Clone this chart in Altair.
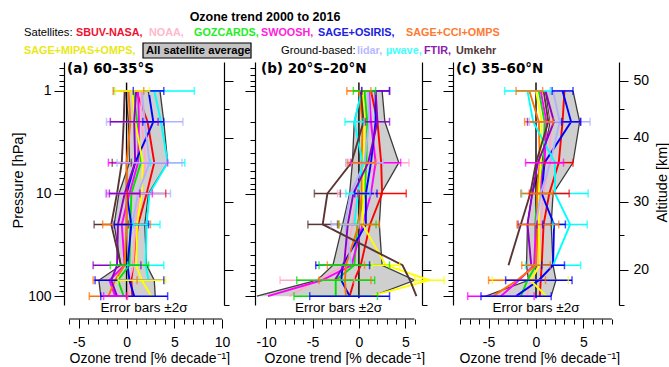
import altair as alt
import pandas as pd

# Pressure levels (hPa) at which every trend profile is given
LEVELS = [1, 2, 5, 10, 20, 50, 70, 100]

SERIES = ["SBUV-NASA", "NOAA", "GOZCARDS", "SWOOSH", "SAGE+OSIRIS",
          "SAGE+CCI+OMPS", "SAGE+MIPAS+OMPS", "lidar", "µwave", "FTIR", "Umkehr"]
COLORS = ["#ff0000", "#ffa8c8", "#00e000", "#ff00ff", "#0000ff",
          "#ff7000", "#ffff00", "#b0b0ff", "#00ffff", "#8c00c8", "#5a3434"]

N = None

# Trends [% per decade] at LEVELS, 60-35°S
SOUTH = {
    "SBUV-NASA":       [1.0, 2.2, 2.9, 2.1, 1.2, 0.7, 0.5, 0.6],
    "NOAA":            [1.5, 1.6, 2.0, 1.4, 0.9, 0.7, 0.3, 0.2],
    "GOZCARDS":        [0.7, 1.1, 1.5, 0.5, 0.4, 0.3, -0.9, -0.3],
    "SWOOSH":          [1.2, 1.3, 1.2, 0.3, -0.5, -0.2, -1.8, -1.2],
    "SAGE+OSIRIS":     [2.3, 2.8, 0.9, 0.0, 0.5, 0.1, 0.3, 0.8],
    "SAGE+CCI+OMPS":   [0.2, 0.4, 0.0, 0.0, 0.0, -0.2, -1.2, -1.9],
    "SAGE+MIPAS+OMPS": [0.6, 0.9, 1.7, 1.6, 1.1, 1.0, 1.6, 2.6],
    "lidar":           [1.6, 1.9, 2.4, 1.2, 0.6, N, N, N],
    "µwave":           [2.9, 3.6, 4.3, 2.4, 2.1, 2.0, 2.3, N],
    "FTIR":            [1.0, 0.8, 0.9, -0.2, -0.9, -1.0, -1.6, -1.0],
    "Umkehr":          [-0.2, -0.3, -0.5, -1.0, -1.6, -0.6, N, N],
}
SOUTH_AVG_LO = [-0.1, 0.2, 0.3, -0.8, -1.3, -0.6, -2.9, -2.7]
SOUTH_AVG_HI = [3.5, 3.9, 4.3, 2.3, 1.9, 2.1, 2.9, 3.0]
# (dataset, level, 2-sigma half width)
SOUTH_ERR = [
    ("µwave", 1, 4.2), ("SAGE+OSIRIS", 1, 1.6), ("SAGE+CCI+OMPS", 1, 1.6), ("SAGE+MIPAS+OMPS", 1, 1.8),
    ("lidar", 2, 4.0), ("FTIR", 2, 2.5), ("SAGE+OSIRIS", 2, 1.1),
    ("µwave", 5, 1.8), ("Umkehr", 5, 1.0), ("SWOOSH", 5, 3.1), ("lidar", 5, 3.4),
    ("SBUV-NASA", 10, 2.0), ("SWOOSH", 10, 2.4), ("lidar", 10, 3.4), ("FTIR", 10, 1.6),
    ("Umkehr", 20, 1.8), ("SAGE+CCI+OMPS", 20, 2.5), ("SAGE+OSIRIS", 20, 1.8), ("µwave", 20, 1.4),
    ("FTIR", 50, 2.5), ("µwave", 50, 1.9), ("GOZCARDS", 50, 2.0),
    ("SAGE+CCI+OMPS", 70, 2.3), ("SAGE+OSIRIS", 70, 3.6), ("SAGE+MIPAS+OMPS", 70, 2.5),
    ("SAGE+CCI+OMPS", 100, 2.0), ("SAGE+OSIRIS", 100, 3.5), ("SWOOSH", 100, 1.2),
]

# Trends [% per decade] at LEVELS, 20°S-20°N
TROPICS = {
    "SBUV-NASA":       [1.3, 2.0, 2.4, 2.5, 1.2, 0.2, -0.5, -1.0],
    "NOAA":            [1.0, 1.2, 2.0, -0.3, -0.7, -1.5, -4.5, -7.5],
    "GOZCARDS":        [0.6, 0.9, 0.8, 0.6, -0.15, -0.5, -2.5, -2.5],
    "SWOOSH":          [1.1, 1.3, 1.8, 1.3, 0.4, -0.8, -4.0, -9.8],
    "SAGE+OSIRIS":     [1.8, 1.8, 1.3, 0.75, 0.75, -1.75, -1.9, -1.0],
    "SAGE+CCI+OMPS":   [0.0, 0.4, 0.3, 0.3, 0.0, -1.4, -1.5, -1.4],
    "SAGE+MIPAS+OMPS": [0.4, 0.6, 0.5, 0.5, 0.4, 2.9, 7.6, 1.3],
    "lidar":           [1.0, 1.1, 0.6, -0.9, -1.5, -0.8, N, N],
    "µwave":           [0.3, -0.5, 0.4, -0.1, -0.5, N, N, N],
    "FTIR":            [1.8, 2.0, 1.0, -0.6, -1.2, -1.6, -2.6, N],
    "Umkehr":          [0.2, 0.5, -0.8, -3.4, -3.9, 4.7, 5.5, 6.2],
}
TROPICS_AVG_LO = [0.3, -0.5, -0.7, -1.0, -1.75, -2.8, -4.5, -11.0]
TROPICS_AVG_HI = [2.5, 2.8, 4.3, 2.4, 2.2, 2.5, 6.0, 1.5]
TROPICS_ERR = [
    ("SAGE+OSIRIS", 1, 1.5), ("FTIR", 1, 1.5), ("SAGE+CCI+OMPS", 1, 1.3), ("GOZCARDS", 1, 1.2),
    ("FTIR", 2, 1.3), ("µwave", 2, 1.0),
    ("NOAA", 5, 3.4), ("SWOOSH", 5, 2.7), ("lidar", 5, 2.0), ("SAGE+CCI+OMPS", 5, 1.5),
    ("SBUV-NASA", 10, 2.6), ("Umkehr", 10, 1.4), ("NOAA", 10, 2.0), ("µwave", 10, 1.3), ("SAGE+OSIRIS", 10, 1.2),
    ("Umkehr", 20, 1.6), ("GOZCARDS", 20, 2.0), ("SAGE+CCI+OMPS", 20, 2.2), ("lidar", 20, 1.5),
    ("SAGE+OSIRIS", 50, 2.9), ("SAGE+CCI+OMPS", 50, 2.0), ("GOZCARDS", 50, 3.8), ("SAGE+MIPAS+OMPS", 50, 1.5),
    ("NOAA", 70, 4.0), ("SAGE+CCI+OMPS", 70, 2.8), ("GOZCARDS", 70, 4.2), ("SAGE+MIPAS+OMPS", 70, 1.6),
    ("GOZCARDS", 100, 4.5), ("SAGE+OSIRIS", 100, 4.3),
]

# Trends [% per decade] at LEVELS, 35-60°N
NORTH = {
    "SBUV-NASA":       [3.0, 2.8, 2.4, 1.4, 0.8, 0.6, 0.5, 0.4],
    "NOAA":            [1.2, 1.6, 1.4, 0.8, 0.5, 0.3, -0.5, -1.0],
    "GOZCARDS":        [0.3, 0.9, 0.8, 0.2, -0.1, 0.0, -0.9, -1.6],
    "SWOOSH":          [0.5, 1.1, 0.9, 0.3, 0.0, -0.2, -1.8, -3.7],
    "SAGE+OSIRIS":     [2.8, 3.7, 0.9, 0.6, 1.9, 1.8, 0.3, -2.1],
    "SAGE+CCI+OMPS":   [-0.7, 0.3, 0.4, 0.1, 0.2, 0.0, -2.0, -4.5],
    "SAGE+MIPAS+OMPS": [0.0, 0.6, 0.5, 0.3, 0.3, 0.4, -0.6, 1.1],
    "lidar":           [1.8, 2.5, 1.5, 0.5, 0.0, N, N, N],
    "µwave":           [-0.9, -0.3, 2.0, 2.0, 3.6, 1.8, N, N],
    "FTIR":            [1.0, 1.9, 0.2, -0.4, -0.9, -0.5, N, N],
    "Umkehr":          [0.8, 1.3, 0.0, -0.6, -1.6, -2.9, N, N],
}
NORTH_AVG_LO = [1.0, 1.5, 0.6, -0.4, -0.9, -1.0, -0.8, -5.3]
NORTH_AVG_HI = [3.9, 4.6, 3.9, 1.8, 1.6, 1.8, 2.1, 1.6]
NORTH_ERR = [
    ("µwave", 1, 2.4), ("SAGE+CCI+OMPS", 1, 1.4), ("SAGE+OSIRIS", 1, 1.1),
    ("FTIR", 2, 2.8), ("lidar", 2, 3.2), ("SAGE+OSIRIS", 2, 1.0), ("SAGE+CCI+OMPS", 2, 1.5),
    ("SBUV-NASA", 5, 1.5), ("SWOOSH", 5, 2.0),
    ("µwave", 10, 3.5), ("SBUV-NASA", 10, 2.1), ("SAGE+CCI+OMPS", 10, 1.7),
    ("µwave", 20, 1.8), ("SAGE+OSIRIS", 20, 1.2), ("FTIR", 20, 1.0), ("SAGE+CCI+OMPS", 20, 2.2),
    ("µwave", 50, 2.9), ("SAGE+OSIRIS", 50, 1.2), ("SAGE+CCI+OMPS", 50, 1.5),
    ("SAGE+MIPAS+OMPS", 70, 4.0), ("SAGE+CCI+OMPS", 70, 3.0), ("SAGE+OSIRIS", 70, 3.5),
    ("SWOOSH", 100, 3.5), ("SAGE+OSIRIS", 100, 3.7),
]

# Pressure axis ticks (hPa)
P_TICKS = [0.6, 0.7, 0.8, 0.9, 1, 2, 3, 4, 5, 6, 7, 8, 9, 10,
           20, 30, 40, 50, 60, 70, 80, 90, 100]
P_LABELLED = [1, 10, 100]
# US standard atmosphere: altitude (km) and matching pressure (hPa)
ALT_KM = [15, 20, 25, 30, 35, 40, 45, 50]
ALT_HPA = [121.1, 55.29, 25.49, 11.97, 5.746, 2.871, 1.491, 0.7978]
ALT_LABELLED = [20, 30, 40, 50]
ZERO_SPAN_HPA = [0.83, 105]

FONT = "Liberation Sans"
LABEL_FONT = "DejaVu Sans"
HEIGHT = 243
Y_SCALE = alt.Scale(type="log", domain=[0.5228, 122], reverse=True, nice=False, zero=False)
COLOR_SCALE = alt.Scale(domain=SERIES, range=COLORS)
ONE = pd.DataFrame({"k": [0]})


def eq_any(values):
    return " || ".join(f"datum.value == {v}" for v in values)


def left_axis(with_labels):
    kw = dict(orient="left", values=P_TICKS, grid=False, domainColor="black",
              tickColor="black", domainWidth=1.2,
              tickSize={"condition": {"test": eq_any(P_LABELLED), "value": 10}, "value": 5})
    if with_labels:
        kw.update(labelExpr=f"({eq_any(P_LABELLED)}) ? '' + datum.value : ''",
                  labelFontSize=14, labelPadding=3, labelFlush=False, labelOverlap=False,
                  labelColor="black", title="Pressure [hPa]", titleFontSize=14.5,
                  titleFontWeight="normal", titleColor="black", titleAngle=270,
                  titleX=-39, titleY=118, titleBaseline="bottom", titleAlign="center")
    else:
        kw.update(labels=False, title="")
    return alt.Axis(**kw)


def right_axis(with_labels):
    major = [p for p, km in zip(ALT_HPA, ALT_KM) if km in ALT_LABELLED]
    kw = dict(orient="right", values=ALT_HPA, grid=False, domainColor="black",
              tickColor="black", domainWidth=1.2,
              tickSize={"condition": {"test": eq_any(major), "value": 9}, "value": 5})
    if with_labels:
        expr = "".join(f"datum.value == {p} ? '{km}' : "
                       for p, km in zip(ALT_HPA, ALT_KM) if km in ALT_LABELLED) + "''"
        kw.update(labelExpr=expr, labelFontSize=14, labelPadding=5, labelFlush=False,
                  labelOverlap=False, labelColor="black", title="Altitude [km]",
                  titleFontSize=14.5, titleFontWeight="normal", titleColor="black",
                  titleAngle=270, titleX=50, titleY=120, titleBaseline="bottom",
                  titleAlign="center")
    else:
        kw.update(labels=False, title="")
    return alt.Axis(**kw)


def x_axis(lo, hi, title_x):
    return alt.Axis(values=list(range(lo, hi + 1)), domain=False, offset=14, grid=False,
                    tickColor="black",
                    tickSize={"condition": {"test": "datum.value % 5 == 0", "value": 9}, "value": 5},
                    labelExpr="datum.value % 5 == 0 ? '' + datum.value : ''",
                    labelFontSize=14, labelPadding=7, labelFlush=False, labelOverlap=False,
                    labelColor="black", title="Ozone trend [% decade⁻¹]", titleFontSize=14,
                    titleFontWeight="normal", titleColor="black", titleAlign="left",
                    titleAnchor="start", titleX=title_x, titleY=39, titleBaseline="middle")


def panel(trends, avg_lo, avg_hi, errs, width, x_domain, x_span, title_x, label,
          label_x, first=False, last=False, extra=None):
    rows = []
    for s in SERIES:
        for i, (p, v) in enumerate(zip(LEVELS, trends[s])):
            if v is not None:
                rows.append({"series": s, "p": p, "idx": i, "trend": v})
    prof = pd.DataFrame(rows)
    band = pd.DataFrame({"p": LEVELS, "idx": range(len(LEVELS)), "lo": avg_lo, "hi": avg_hi})
    err = pd.DataFrame([
        {"series": s, "p": p,
         "lo": trends[s][LEVELS.index(p)] - h, "hi": trends[s][LEVELS.index(p)] + h}
        for s, p, h in errs
    ])
    zero = pd.DataFrame({"x0": [0], "p0": [ZERO_SPAN_HPA[0]], "p1": [ZERO_SPAN_HPA[1]]})
    span = pd.DataFrame({"a": [x_span[0]], "b": [x_span[1]]})

    xs = alt.Scale(domain=x_domain, nice=False, zero=False)
    # every layer shares one identical bottom axis definition so they merge cleanly
    xa = x_axis(x_span[0], x_span[1], title_x)
    col = alt.Color("series:N", scale=COLOR_SCALE, legend=None)

    area = alt.Chart(band).mark_area(orient="horizontal", color="#cfcfcf").encode(
        x=alt.X("lo:Q", scale=xs, axis=xa), x2="hi:Q",
        y=alt.Y("p:Q", scale=Y_SCALE, axis=left_axis(first)))
    edges = alt.Chart(band).transform_fold(["lo", "hi"], as_=["edge", "val"]).mark_line(
        color="#3c3c3c", strokeWidth=1.3).encode(
        x=alt.X("val:Q", scale=xs, axis=xa), y=alt.Y("p:Q", scale=Y_SCALE, axis=None),
        detail="edge:N", order="idx:Q")
    zline = alt.Chart(zero).mark_rule(color="black", strokeWidth=1.4).encode(
        x=alt.X("x0:Q", scale=xs, axis=xa), y=alt.Y("p0:Q", scale=Y_SCALE, axis=None), y2="p1:Q")
    lines = alt.Chart(prof).mark_line(strokeWidth=1.9).encode(
        x=alt.X("trend:Q", scale=xs, axis=xa),
        y=alt.Y("p:Q", scale=Y_SCALE, axis=right_axis(last)),
        color=col, detail="series:N", order="idx:Q")
    bars = alt.Chart(err).mark_rule(strokeWidth=1.5).encode(
        x=alt.X("lo:Q", scale=xs, axis=xa), x2="hi:Q",
        y=alt.Y("p:Q", scale=Y_SCALE, axis=None), color=col)
    caps = alt.Chart(err).transform_fold(["lo", "hi"], as_=["end", "val"]).mark_tick(
        orient="vertical", size=8, thickness=1.5).encode(
        x=alt.X("val:Q", scale=xs, axis=xa), y=alt.Y("p:Q", scale=Y_SCALE, axis=None), color=col)
    axis_line = alt.Chart(span).mark_rule(color="black", strokeWidth=1.2).encode(
        x=alt.X("a:Q", scale=xs, axis=xa), x2="b:Q", y=alt.value(HEIGHT + 14))
    tag = alt.Chart(ONE).mark_text(text=label, font=LABEL_FONT, fontWeight="bold",
                                   fontSize=13.5, align="left", baseline="middle",
                                   color="black").encode(x=alt.value(label_x), y=alt.value(7))
    note = alt.Chart(ONE).mark_text(text="Error bars ±2σ", fontSize=13.5, align="center",
                                    baseline="middle", color="black").encode(
        x=alt.value(width / 2), y=alt.value(HEIGHT + 3))

    layers = [area, edges, zline, lines, bars, caps, axis_line, tag, note]
    if extra:
        layers += extra
    return alt.layer(*layers).resolve_axis(y="independent").properties(
        width=width, height=HEIGHT)


# Header: title and colour key, placed relative to the first panel
def txt(s, x, y, color="black", bold=True, size=10.8, align="left"):
    return alt.Chart(ONE).mark_text(text=s, fontSize=size, align=align, baseline="middle",
                                    color=color, fontWeight="bold" if bold else "normal"
                                    ).encode(x=alt.value(x), y=alt.value(y))


KEY_ROW1 = [("SBUV-NASA,", 12), ("NOAA,", 85), ("GOZCARDS,", 130), ("SWOOSH,", 197),
            ("SAGE+OSIRIS,", 254), ("SAGE+CCI+OMPS", 342)]
KEY_ROW1_COLORS = ["#f01030", "#ffb8cc", "#22ee22", "#ff22dd", "#2020e0", "#ff7a30"]
KEY_ROW2 = [("lidar,", 293), ("µwave,", 322), ("FTIR,", 360), ("Umkehr", 392)]
KEY_ROW2_COLORS = ["#b8b8ff", "#40ffff", "#8a20b0", "#503838"]

header = [txt("Ozone trend 2000 to 2016", 201, -45, size=12.5, align="center"),
          txt("Satellites:", -40, -29, bold=False, size=11.2),
          txt("SAGE+MIPAS+OMPS,", -40, -11, color="#e8e818"),
          alt.Chart(ONE).mark_rect(fill="#c4c4c4", stroke="black", strokeWidth=1.2).encode(
              x=alt.value(79), x2=alt.value(187), y=alt.value(-19), y2=alt.value(-4)),
          txt("All satellite average", 82, -11, size=11.2),
          txt("Ground-based:", 217, -11, bold=False, size=11.2)]
header += [txt(s, x, -29, color=c) for (s, x), c in zip(KEY_ROW1, KEY_ROW1_COLORS)]
header += [txt(s, x, -11, color=c) for (s, x), c in zip(KEY_ROW2, KEY_ROW2_COLORS)]

pa = panel(SOUTH, SOUTH_AVG_LO, SOUTH_AVG_HI, SOUTH_ERR, 160, [-6.55, 10.2], (-6, 10), 5,
           "(a) 60–35°S", 3, first=True, extra=header)
pb = panel(TROPICS, TROPICS_AVG_LO, TROPICS_AVG_HI, TROPICS_ERR, 167, [-11.2, 6.8], (-10, 6), 9,
           "(b) 20°S–20°N", 6)
pc = panel(NORTH, NORTH_AVG_LO, NORTH_AVG_HI, NORTH_ERR, 166, [-8.75, 8.75], (-8, 8), 6,
           "(c) 35–60°N", 3, last=True)

chart = alt.hconcat(pa, pb, pc, spacing=31, bounds="flush").properties(
    padding={"left": 10, "top": 11, "right": 0, "bottom": 0}
).configure(font=FONT).configure_view(strokeWidth=0)

chart.save("out.html", embed_options={"renderer": "svg", "actions": False})
